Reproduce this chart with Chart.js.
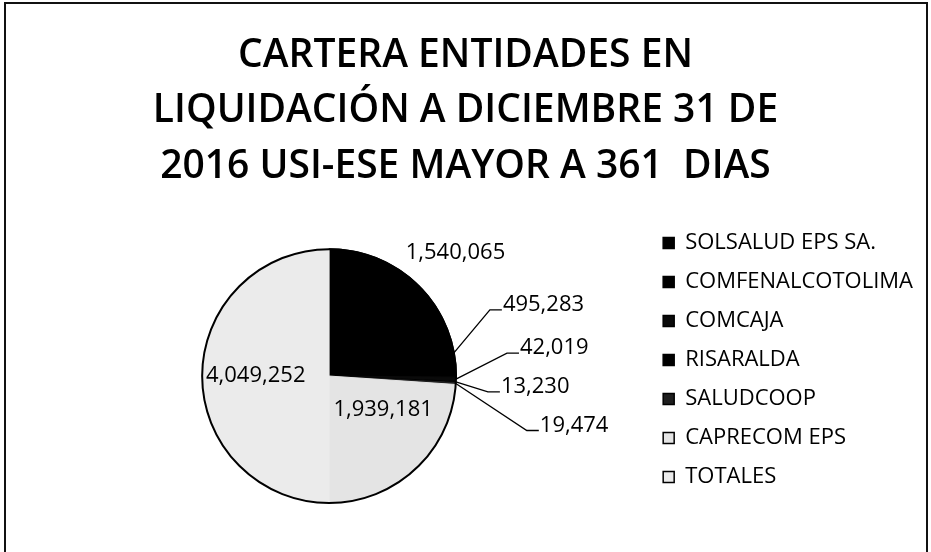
<!DOCTYPE html>
<html>
<head>
<meta charset="utf-8">
<script src="https://cdn.jsdelivr.net/npm/chart.js@4"></script>
<style>
  body { margin: 0; background: #fff; }
  #wrap { position: relative; width: 931px; height: 552px; overflow: hidden; }
  #frame { position: absolute; left: 4px; top: 2px; width: 920px; height: 580px; border: 2px solid #111; }
  #chart { position: absolute; left: 0; top: 0; }
</style>
</head>
<body>
<div id="wrap">
  <div id="frame"></div>
  <canvas id="chart" width="931" height="552"></canvas>
</div>
<script>
const titleLines = ['CARTERA ENTIDADES EN', 'LIQUIDACIÓN A DICIEMBRE 31 DE', '2016 USI-ESE MAYOR A 361  DIAS']
const entidades = ['SOLSALUD EPS SA.', 'COMFENALCOTOLIMA', 'COMCAJA', 'RISARALDA', 'SALUDCOOP', 'CAPRECOM EPS', 'TOTALES']
const cartera = [1540065, 495283, 42019, 13230, 19474, 1939181, 4049252]

const sliceColors = ['#000000', '#000000', '#0a0a0a', '#000000', '#1e1e1e', '#e4e4e4', '#ebebeb']

// where Excel put each value label, relative to the slice's outer edge (or a point inside it)
const labelSpots = [
  { dx: 55, dy: -18 },
  { dx: 36, dy: -43, leader: true },
  { dx: 51, dy: -26, leader: true },
  { dx: 32, dy: 10, leader: true },
  { dx: 71, dy: 47, leader: true },
  { inside: 0.6, dx: 2, dy: -22 },
  { inside: 0.57, dx: -1, dy: 0 }
]

const fmt = v => v.toLocaleString('en-US')

// black ring round the pie (no dividing lines between slices, like the scan)
const pieOutline = {
  id: 'pieOutline',
  afterDatasetsDraw (chart) {
    const arc = chart.getDatasetMeta(0).data[0]
    if (!arc) return
    const { x, y, outerRadius } = arc.getProps(['x', 'y', 'outerRadius'], true)
    const ctx = chart.ctx
    ctx.save()
    ctx.strokeStyle = '#000'
    ctx.lineWidth = 2
    ctx.beginPath()
    ctx.arc(x, y, outerRadius, 0, Math.PI * 2)
    ctx.stroke()
    ctx.restore()
  }
}

// value labels + leader lines
const valueLabels = {
  id: 'valueLabels',
  afterDatasetsDraw (chart) {
    const ctx = chart.ctx
    const arcs = chart.getDatasetMeta(0).data
    ctx.save()
    ctx.font = '22px "Open Sans"'
    ctx.fillStyle = '#000'
    ctx.strokeStyle = '#000'
    ctx.lineWidth = 1.3
    arcs.forEach((arc, i) => {
      const { x, y, startAngle, endAngle, outerRadius } = arc.getProps(['x', 'y', 'startAngle', 'endAngle', 'outerRadius'], true)
      const mid = (startAngle + endAngle) / 2
      const spot = labelSpots[i]
      const text = fmt(cartera[i])
      if (spot.inside) {
        const px = x + Math.cos(mid) * outerRadius * spot.inside + spot.dx
        const py = y + Math.sin(mid) * outerRadius * spot.inside + spot.dy
        ctx.textAlign = 'center'
        ctx.textBaseline = 'middle'
        ctx.fillText(text, px, py)
        return
      }
      const ex = x + Math.cos(mid) * outerRadius
      const ey = y + Math.sin(mid) * outerRadius
      const bx = ex + spot.dx
      const by = ey + spot.dy
      if (!spot.leader) {
        ctx.textAlign = 'center'
        ctx.textBaseline = 'middle'
        ctx.fillText(text, bx, by)
        return
      }
      ctx.beginPath()
      ctx.moveTo(ex, ey)
      ctx.lineTo(bx, by)
      ctx.lineTo(bx + 12, by)
      ctx.stroke()
      ctx.textAlign = 'left'
      ctx.textBaseline = 'middle'
      ctx.fillText(text, bx + 13, by - 5)
    })
    ctx.restore()
  }
}

// title centred on the whole frame, key a little above the pie's centre
const layoutTweaks = {
  id: 'layoutTweaks',
  afterLayout (chart) {
    const t = chart.titleBlock
    t.left = 0
    t.right = chart.width
    const lg = chart.legend
    const h = lg.bottom - lg.top
    const mid = (chart.chartArea.top + chart.chartArea.bottom) / 2 - 16
    lg.top = mid - h / 2
    lg.bottom = mid + h / 2
  }
}

const baseLabels = Chart.overrides.pie.plugins.legend.labels.generateLabels

const ctx = document.getElementById('chart').getContext('2d')
new Chart(ctx, {
  type: 'pie',
  data: {
    labels: entidades,
    datasets: [{
      data: cartera,
      backgroundColor: sliceColors,
      borderColor: sliceColors,
      borderWidth: [2, 2, 1, 1, 1, 1, 1]
    }]
  },
  options: {
    responsive: false,
    animation: false,
    layout: { padding: { left: 12, right: 8, top: 0, bottom: 48 } },
    plugins: {
      title: {
        display: true,
        text: titleLines,
        color: '#000',
        font: { family: 'Open Sans', size: 39, weight: '600', lineHeight: 1.42 },
        padding: { top: 28, bottom: 54 }
      },
      legend: {
        position: 'right',
        labels: {
          color: '#000',
          font: { family: 'Open Sans', size: 22 },
          boxWidth: 11,
          boxHeight: 11,
          padding: 17,
          generateLabels: chart => baseLabels(chart).map(l => ({ ...l, strokeStyle: '#000', lineWidth: 1.5 }))
        }
      },
      tooltip: { enabled: false }
    }
  },
  plugins: [pieOutline, valueLabels, layoutTweaks]
})
</script>
</body>
</html>
